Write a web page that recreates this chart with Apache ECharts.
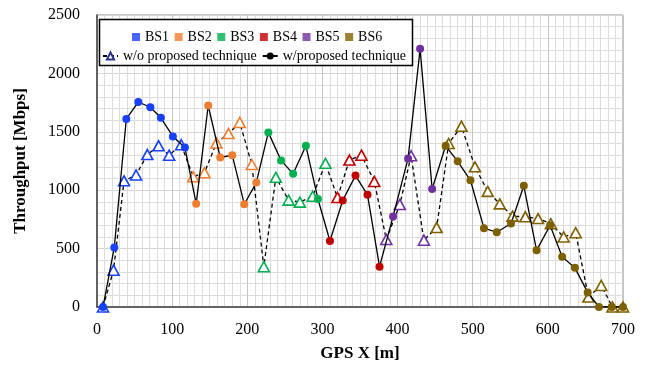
<!DOCTYPE html>
<html>
<head>
<meta charset="utf-8">
<script src="https://cdn.jsdelivr.net/npm/echarts@6/dist/echarts.min.js"></script>
<style>
html, body { margin: 0; padding: 0; background: #fff; }
#chart { width: 651px; height: 367px; }
</style>
</head>
<body>
<div id="chart"></div>
<script>
// base stations
const bsNames = ['BS1', 'BS2', 'BS3', 'BS4', 'BS5', 'BS6'];
const bsColors = ['#1740ff', '#ed7d31', '#00b050', '#c00000', '#7030a0', '#7f6000'];

// w/ proposed technique (solid line, dots)
const propX = [8, 23, 39, 55, 71, 85, 101, 117,
    132, 148, 164, 180, 196, 212,
    228, 245, 261, 278, 294,
    310, 327, 344, 360, 376,
    394, 414, 430, 446,
    464, 480, 497, 515, 532, 551, 568, 585, 603, 619, 636, 653, 668, 685, 700];
const propY = [0, 510, 1610, 1755, 1710, 1620, 1460, 1365,
    885, 1725, 1280, 1300, 880, 1065,
    1495, 1255, 1140, 1380, 925,
    565, 912, 1125, 960, 345,
    775, 1272, 2210, 1010,
    1380, 1247, 1085, 675, 640, 715, 1038, 485, 700, 430, 335, 125, 0, 0, 0];
const propBS = [0, 0, 0, 0, 0, 0, 0, 0,
    1, 1, 1, 1, 1, 1,
    2, 2, 2, 2, 2,
    3, 3, 3, 3, 3,
    4, 4, 4, 4,
    5, 5, 5, 5, 5, 5, 5, 5, 5, 5, 5, 5, 5, 5, 5];

// w/o proposed technique (dashed line, triangles)
const woX = [8, 22, 36, 52, 67, 82, 96, 112,
    128, 143, 159, 175, 190, 206,
    222, 238, 255, 270, 287, 304,
    320, 336, 352, 369,
    385, 403, 418, 435,
    452, 468, 485, 503, 520, 536, 553, 570, 587, 604, 621, 637, 654, 671, 686, 700];
const woY = [0, 315, 1080, 1130, 1305, 1380, 1300, 1390,
    1115, 1150, 1405, 1485, 1580, 1220,
    345, 1110, 915, 898, 948, 1230,
    938, 1258, 1300, 1075,
    578, 878, 1295, 572,
    680, 1400, 1548, 1200, 990, 883, 778, 772, 757, 713, 600, 636, 85, 185, 0, 0];
const woBS = [0, 0, 0, 0, 0, 0, 0, 0,
    1, 1, 1, 1, 1, 1,
    2, 2, 2, 2, 2, 2,
    3, 3, 3, 3,
    4, 4, 4, 4,
    5, 5, 5, 5, 5, 5, 5, 5, 5, 5, 5, 5, 5, 5, 5, 5];

const serif = '"Liberation Serif", "Times New Roman", serif';

let propData = propX.map(function (x, i) {
    return { value: [x, propY[i]], itemStyle: { color: bsColors[propBS[i]] } };
});
let woData = woX.map(function (x, i) {
    return { value: [x, woY[i]], itemStyle: { color: '#fff', borderColor: bsColors[woBS[i]] } };
});

let series = [];
// dummy series so the BS colours show in the legend
for (let i = 0; i < bsNames.length; i++) {
    series.push({
        name: bsNames[i],
        type: 'scatter',
        data: [],
        itemStyle: { color: bsColors[i] }
    });
}
series.push({
    name: 'w/o proposed technique',
    type: 'line',
    data: woData,
    symbol: 'triangle',
    symbolSize: [11, 10],
    lineStyle: { color: '#000', width: 1.3, type: [4, 3] },
    itemStyle: { color: '#fff', borderColor: '#25338a', borderWidth: 1.6 },
    z: 3
});
series.push({
    name: 'w/proposed technique',
    type: 'line',
    data: propData,
    symbol: 'circle',
    symbolSize: 8,
    lineStyle: { color: '#000', width: 1.3 },
    itemStyle: { color: '#000' },
    z: 4
});

let chart = echarts.init(document.getElementById('chart'));
chart.setOption({
    animation: false,
    backgroundColor: '#fff',
    grid: {
        left: 97, right: 28, top: 15, bottom: 56.5,
        show: true, borderColor: '#8c8c8c', borderWidth: 1
    },
    graphic: [{
        type: 'rect',
        z: 5,
        shape: { x: 99.5, y: 19.5, width: 313, height: 46 },
        style: { fill: '#fff', stroke: '#000', lineWidth: 1.5 }
    }],
    legend: [{
        data: bsNames,
        left: 132, top: 30,
        padding: 0,
        icon: 'rect',
        itemWidth: 8, itemHeight: 8, itemGap: 5.5,
        z: 6,
        textStyle: { fontFamily: serif, fontSize: 14, color: '#000' }
    }, {
        data: ['w/o proposed technique', 'w/proposed technique'],
        left: 102, top: 49,
        padding: 0,
        itemWidth: 15, itemHeight: 9, itemGap: 5,
        z: 6,
        textStyle: { fontFamily: serif, fontSize: 14, color: '#000' }
    }],
    xAxis: {
        type: 'value',
        min: 0, max: 700, interval: 100,
        name: 'GPS X [m]',
        nameLocation: 'middle',
        nameGap: 38,
        nameTextStyle: { fontFamily: serif, fontSize: 17, fontWeight: 'bold', color: '#000' },
        axisLine: { show: true, lineStyle: { color: '#404040', width: 1.5 } },
        axisTick: { show: false },
        axisLabel: { fontFamily: serif, fontSize: 16, color: '#000', margin: 15 },
        splitLine: { show: true, lineStyle: { color: '#c4c4c4', width: 1 } },
        minorTick: { show: false, splitNumber: 10 },
        minorSplitLine: { show: true, lineStyle: { color: '#dcdcdc', width: 1 } }
    },
    yAxis: {
        type: 'value',
        min: 0, max: 2500, interval: 500,
        name: 'Throughput [Mbps]',
        nameLocation: 'middle',
        nameGap: 68,
        nameTextStyle: { fontFamily: serif, fontSize: 17, fontWeight: 'bold', color: '#000' },
        axisLine: { show: true, lineStyle: { color: '#404040', width: 1.5 } },
        axisTick: { show: false },
        axisLabel: {
            fontFamily: serif, fontSize: 16, color: '#000', margin: 17,
            formatter: function (v) { return String(v); }
        },
        splitLine: { show: true, lineStyle: { color: '#d4d4d4', width: 1 } },
        minorTick: { show: false, splitNumber: 5 },
        minorSplitLine: { show: true, lineStyle: { color: '#dcdcdc', width: 1 } }
    },
    series: series
});
</script>
</body>
</html>
